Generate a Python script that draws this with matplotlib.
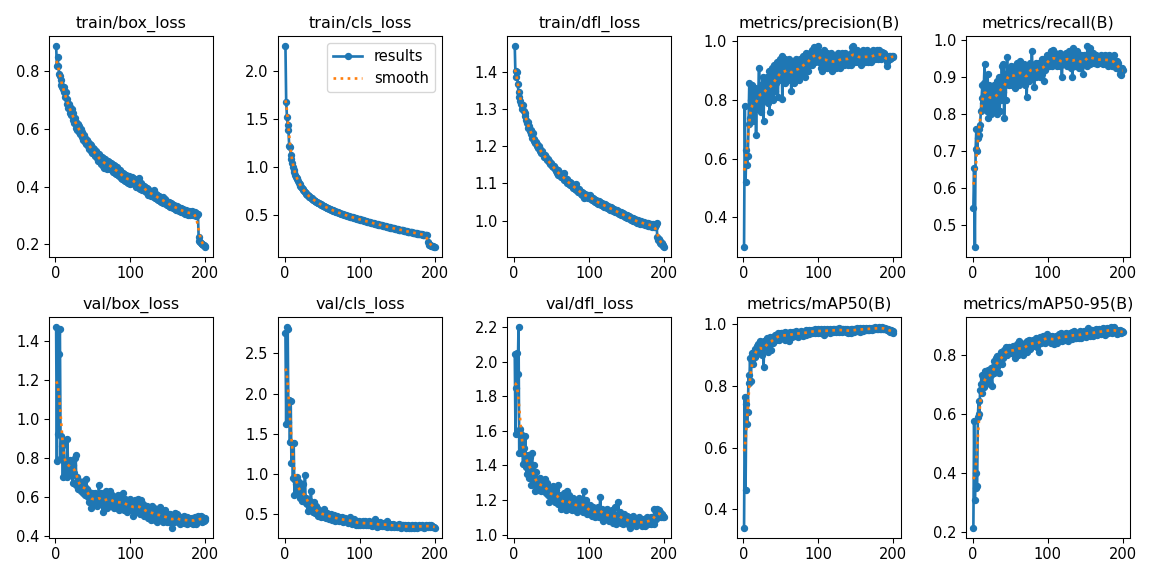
import matplotlib
matplotlib.use("Agg")
import matplotlib.pyplot as plt
import numpy as np

plt.rcParams["font.size"] = 11

# ── data (epochs 1..200) ────────────────────────────────────────────────────

EPOCHS = list(range(1, 201))

TITLES = [
    "train/box_loss", "train/cls_loss", "train/dfl_loss",
    "metrics/precision(B)", "metrics/recall(B)",
    "val/box_loss", "val/cls_loss", "val/dfl_loss",
    "metrics/mAP50(B)", "metrics/mAP50-95(B)",
]

train_box_loss = [
    0.889, 0.818, 0.852, 0.820, 0.793, 0.785, 0.770, 0.752, 0.745, 0.738,
    0.745, 0.728, 0.712, 0.730, 0.688, 0.705, 0.672, 0.686, 0.655, 0.675,
    0.650, 0.668, 0.632, 0.655, 0.622, 0.640, 0.605, 0.625, 0.598, 0.618,
    0.590, 0.610, 0.582, 0.600, 0.572, 0.588, 0.562, 0.578, 0.555, 0.570,
    0.548, 0.562, 0.540, 0.556, 0.532, 0.548, 0.525, 0.545, 0.518, 0.535,
    0.512, 0.530, 0.505, 0.522, 0.498, 0.518, 0.490, 0.512, 0.485, 0.505,
    0.478, 0.502, 0.470, 0.498, 0.465, 0.495, 0.472, 0.490, 0.462, 0.488,
    0.468, 0.485, 0.460, 0.482, 0.456, 0.478, 0.452, 0.475, 0.448, 0.470,
    0.445, 0.468, 0.440, 0.462, 0.436, 0.458, 0.430, 0.452, 0.426, 0.448,
    0.424, 0.445, 0.420, 0.440, 0.416, 0.438, 0.412, 0.436, 0.410, 0.432,
    0.420, 0.435, 0.412, 0.430, 0.408, 0.425, 0.400, 0.420, 0.398, 0.418,
    0.395, 0.430, 0.392, 0.412, 0.388, 0.405, 0.390, 0.402, 0.385, 0.398,
    0.380, 0.395, 0.372, 0.390, 0.370, 0.386, 0.366, 0.382, 0.368, 0.378,
    0.364, 0.388, 0.360, 0.375, 0.356, 0.370, 0.352, 0.366, 0.350, 0.362,
    0.348, 0.360, 0.344, 0.365, 0.342, 0.356, 0.340, 0.350, 0.336, 0.348,
    0.334, 0.345, 0.330, 0.342, 0.328, 0.340, 0.325, 0.336, 0.322, 0.334,
    0.320, 0.332, 0.318, 0.328, 0.315, 0.326, 0.312, 0.324, 0.310, 0.322,
    0.308, 0.320, 0.306, 0.318, 0.304, 0.316, 0.302, 0.314, 0.300, 0.312,
    0.306, 0.314, 0.302, 0.312, 0.300, 0.310, 0.298, 0.308, 0.300, 0.305,
    0.225, 0.212, 0.208, 0.205, 0.202, 0.200, 0.197, 0.196, 0.193, 0.191,
]

train_cls_loss = [
    2.260, 1.680, 1.520, 1.440, 1.380, 1.220, 1.210, 1.120, 1.080, 1.040,
    1.000, 0.970, 0.950, 0.920, 0.900, 0.880, 0.870, 0.850, 0.830, 0.820,
    0.805, 0.790, 0.780, 0.770, 0.755, 0.748, 0.740, 0.728, 0.722, 0.712,
    0.705, 0.698, 0.692, 0.685, 0.678, 0.672, 0.668, 0.660, 0.655, 0.650,
    0.645, 0.640, 0.632, 0.630, 0.622, 0.620, 0.614, 0.610, 0.606, 0.600,
    0.598, 0.592, 0.590, 0.584, 0.582, 0.576, 0.574, 0.570, 0.566, 0.562,
    0.560, 0.555, 0.552, 0.549, 0.545, 0.542, 0.540, 0.535, 0.532, 0.530,
    0.526, 0.524, 0.520, 0.518, 0.515, 0.512, 0.510, 0.507, 0.504, 0.502,
    0.499, 0.497, 0.494, 0.492, 0.489, 0.487, 0.484, 0.482, 0.479, 0.477,
    0.475, 0.472, 0.470, 0.468, 0.465, 0.463, 0.461, 0.459, 0.456, 0.454,
    0.452, 0.450, 0.447, 0.445, 0.443, 0.441, 0.439, 0.436, 0.434, 0.432,
    0.430, 0.428, 0.426, 0.424, 0.421, 0.419, 0.417, 0.415, 0.413, 0.411,
    0.409, 0.407, 0.405, 0.403, 0.401, 0.399, 0.397, 0.395, 0.393, 0.391,
    0.389, 0.387, 0.385, 0.383, 0.381, 0.379, 0.377, 0.375, 0.373, 0.371,
    0.369, 0.367, 0.366, 0.364, 0.362, 0.360, 0.358, 0.356, 0.355, 0.353,
    0.351, 0.349, 0.347, 0.346, 0.344, 0.342, 0.340, 0.339, 0.337, 0.335,
    0.333, 0.332, 0.330, 0.328, 0.327, 0.325, 0.323, 0.322, 0.320, 0.318,
    0.317, 0.315, 0.314, 0.312, 0.310, 0.309, 0.307, 0.306, 0.304, 0.303,
    0.301, 0.300, 0.298, 0.297, 0.295, 0.294, 0.292, 0.291, 0.290, 0.288,
    0.215, 0.198, 0.190, 0.185, 0.182, 0.179, 0.176, 0.174, 0.172, 0.170,
]

train_dfl_loss = [
    1.470, 1.385, 1.403, 1.400, 1.368, 1.345, 1.332, 1.322, 1.315, 1.310,
    1.300, 1.312, 1.295, 1.282, 1.290, 1.272, 1.262, 1.266, 1.250, 1.255,
    1.240, 1.245, 1.232, 1.222, 1.235, 1.215, 1.220, 1.208, 1.212, 1.200,
    1.205, 1.195, 1.200, 1.188, 1.192, 1.182, 1.186, 1.178, 1.180, 1.172,
    1.176, 1.168, 1.170, 1.162, 1.166, 1.158, 1.160, 1.153, 1.156, 1.148,
    1.150, 1.143, 1.146, 1.138, 1.141, 1.134, 1.128, 1.136, 1.124, 1.130,
    1.122, 1.126, 1.118, 1.121, 1.114, 1.128, 1.110, 1.116, 1.106, 1.112,
    1.102, 1.108, 1.098, 1.104, 1.095, 1.100, 1.092, 1.097, 1.088, 1.094,
    1.085, 1.098, 1.082, 1.088, 1.078, 1.084, 1.076, 1.080, 1.072, 1.078,
    1.070, 1.075, 1.062, 1.072, 1.066, 1.070, 1.064, 1.068, 1.060, 1.066,
    1.070, 1.058, 1.064, 1.055, 1.062, 1.052, 1.058, 1.050, 1.056, 1.048,
    1.054, 1.046, 1.052, 1.044, 1.050, 1.042, 1.048, 1.040, 1.046, 1.038,
    1.044, 1.036, 1.042, 1.034, 1.040, 1.032, 1.038, 1.030, 1.036, 1.028,
    1.034, 1.026, 1.032, 1.024, 1.030, 1.022, 1.028, 1.020, 1.026, 1.018,
    1.024, 1.016, 1.022, 1.014, 1.020, 1.012, 1.018, 1.010, 1.016, 1.008,
    1.014, 1.006, 1.012, 1.004, 1.010, 1.002, 1.008, 1.000, 1.006, 0.998,
    1.004, 0.997, 1.003, 0.995, 1.001, 0.994, 1.000, 0.992, 0.998, 0.991,
    0.997, 0.990, 0.996, 0.989, 0.995, 0.988, 0.994, 0.987, 0.993, 0.986,
    0.992, 0.985, 0.991, 0.984, 0.990, 0.983, 0.989, 0.982, 0.988, 0.995,
    0.955, 0.948, 0.952, 0.940, 0.945, 0.936, 0.940, 0.932, 0.935, 0.930,
]

precision = [
    0.300, 0.780, 0.520, 0.630, 0.580, 0.610, 0.720, 0.860, 0.740, 0.800,
    0.760, 0.850, 0.730, 0.820, 0.790, 0.840, 0.680, 0.810, 0.770, 0.830,
    0.910, 0.780, 0.850, 0.760, 0.830, 0.880, 0.730, 0.860, 0.800, 0.870,
    0.840, 0.880, 0.790, 0.900, 0.760, 0.870, 0.820, 0.910, 0.850, 0.800,
    0.920, 0.830, 0.890, 0.860, 0.930, 0.810, 0.900, 0.870, 0.940, 0.880,
    0.950, 0.805, 0.920, 0.890, 0.940, 0.860, 0.930, 0.900, 0.870, 0.920,
    0.940, 0.880, 0.910, 0.830, 0.930, 0.900, 0.860, 0.920, 0.890, 0.940,
    0.910, 0.880, 0.930, 0.870, 0.900, 0.940, 0.890, 0.920, 0.950, 0.900,
    0.930, 0.880, 0.960, 0.910, 0.940, 0.900, 0.950, 0.920, 0.960, 0.930,
    0.970, 0.920, 0.950, 0.980, 0.930, 0.960, 0.940, 0.970, 0.950, 0.985,
    0.930, 0.960, 0.910, 0.950, 0.900, 0.940, 0.970, 0.920, 0.950, 0.930,
    0.960, 0.910, 0.940, 0.920, 0.950, 0.930, 0.960, 0.900, 0.940, 0.920,
    0.950, 0.930, 0.910, 0.940, 0.920, 0.960, 0.930, 0.950, 0.910, 0.940,
    0.960, 0.930, 0.950, 0.920, 0.940, 0.960, 0.930, 0.950, 0.920, 0.940,
    0.950, 0.930, 0.960, 0.920, 0.980, 0.985, 0.940, 0.970, 0.930, 0.960,
    0.940, 0.970, 0.930, 0.950, 0.960, 0.940, 0.920, 0.950, 0.970, 0.940,
    0.960, 0.930, 0.950, 0.940, 0.970, 0.930, 0.960, 0.940, 0.950, 0.930,
    0.960, 0.940, 0.970, 0.950, 0.940, 0.960, 0.950, 0.970, 0.940, 0.960,
    0.970, 0.950, 0.960, 0.940, 0.965, 0.950, 0.960, 0.945, 0.955, 0.940,
    0.915, 0.930, 0.945, 0.950, 0.940, 0.950, 0.945, 0.950, 0.948, 0.950,
]

recall = [
    0.548, 0.655, 0.442, 0.705, 0.760, 0.700, 0.735, 0.745, 0.760, 0.772,
    0.810, 0.845, 0.880, 0.830, 0.885, 0.935, 0.820, 0.870, 0.810, 0.910,
    0.790, 0.880, 0.830, 0.860, 0.800, 0.870, 0.840, 0.880, 0.810, 0.850,
    0.870, 0.800, 0.890, 0.840, 0.900, 0.810, 0.880, 0.840, 0.930, 0.860,
    0.935, 0.790, 0.880, 0.840, 0.910, 0.955, 0.890, 0.920, 0.880, 0.910,
    0.930, 0.900, 0.880, 0.920, 0.890, 0.930, 0.870, 0.910, 0.940, 0.900,
    0.920, 0.880, 0.945, 0.900, 0.930, 0.890, 0.920, 0.900, 0.935, 0.880,
    0.920, 0.848, 0.910, 0.930, 0.890, 0.920, 0.940, 0.900, 0.970, 0.910,
    0.930, 0.875, 0.920, 0.940, 0.900, 0.930, 0.910, 0.940, 0.920, 0.900,
    0.930, 0.950, 0.910, 0.940, 0.890, 0.950, 0.920, 0.940, 0.960, 0.930,
    0.950, 0.930, 0.960, 0.940, 0.970, 0.930, 0.975, 0.950, 0.940, 0.965,
    0.940, 0.960, 0.930, 0.955, 0.945, 0.965, 0.930, 0.960, 0.900, 0.950,
    0.960, 0.935, 0.955, 0.940, 0.965, 0.930, 0.960, 0.945, 0.970, 0.950,
    0.925, 0.955, 0.900, 0.980, 0.940, 0.960, 0.930, 0.950, 0.970, 0.935,
    0.955, 0.925, 0.945, 0.960, 0.930, 0.950, 0.910, 0.945, 0.960, 0.935,
    0.950, 0.930, 0.985, 0.955, 0.940, 0.980, 0.935, 0.960, 0.945, 0.950,
    0.965, 0.940, 0.955, 0.945, 0.960, 0.935, 0.950, 0.940, 0.955, 0.945,
    0.960, 0.940, 0.955, 0.935, 0.950, 0.945, 0.960, 0.940, 0.955, 0.930,
    0.950, 0.960, 0.935, 0.955, 0.945, 0.930, 0.950, 0.940, 0.960, 0.935,
    0.925, 0.945, 0.930, 0.940, 0.925, 0.920, 0.910, 0.905, 0.925, 0.920,
]

val_box_loss = [
    1.470, 0.780, 1.460, 0.920, 1.330, 1.460, 0.800, 0.910, 0.860, 0.700,
    0.880, 0.780, 0.720, 0.750, 0.700, 0.895, 0.730, 0.760, 0.710, 0.790,
    0.740, 0.780, 0.670, 0.760, 0.720, 0.800, 0.815, 0.660, 0.700, 0.640,
    0.680, 0.650, 0.670, 0.630, 0.660, 0.640, 0.620, 0.680, 0.650, 0.610,
    0.690, 0.640, 0.600, 0.630, 0.570, 0.610, 0.590, 0.540, 0.620, 0.580,
    0.600, 0.560, 0.620, 0.580, 0.550, 0.600, 0.570, 0.660, 0.590, 0.560,
    0.620, 0.580, 0.520, 0.600, 0.560, 0.590, 0.630, 0.570, 0.540, 0.620,
    0.600, 0.560, 0.630, 0.580, 0.550, 0.610, 0.570, 0.540, 0.600, 0.560,
    0.590, 0.550, 0.610, 0.570, 0.530, 0.580, 0.560, 0.600, 0.540, 0.620,
    0.570, 0.530, 0.590, 0.550, 0.580, 0.520, 0.560, 0.540, 0.590, 0.550,
    0.570, 0.530, 0.560, 0.500, 0.550, 0.580, 0.520, 0.560, 0.540, 0.590,
    0.530, 0.560, 0.510, 0.580, 0.540, 0.520, 0.560, 0.500, 0.550, 0.530,
    0.510, 0.550, 0.520, 0.490, 0.540, 0.510, 0.530, 0.480, 0.550, 0.520,
    0.500, 0.540, 0.480, 0.520, 0.510, 0.470, 0.530, 0.490, 0.545, 0.500,
    0.480, 0.520, 0.470, 0.510, 0.490, 0.530, 0.480, 0.500, 0.470, 0.510,
    0.490, 0.470, 0.510, 0.480, 0.500, 0.440, 0.490, 0.470, 0.515, 0.500,
    0.480, 0.510, 0.470, 0.500, 0.480, 0.460, 0.495, 0.470, 0.490, 0.475,
    0.500, 0.465, 0.485, 0.470, 0.495, 0.460, 0.480, 0.490, 0.470, 0.485,
    0.465, 0.490, 0.475, 0.460, 0.480, 0.495, 0.470, 0.460, 0.485, 0.500,
    0.475, 0.490, 0.480, 0.500, 0.470, 0.495, 0.485, 0.475, 0.490, 0.480,
]

val_cls_loss = [
    2.750, 1.620, 2.830, 2.810, 1.650, 1.920, 1.400, 1.910, 1.140, 1.390,
    0.950, 1.380, 0.740, 0.920, 0.880, 0.960, 0.820, 0.780, 0.900, 0.700,
    0.850, 0.760, 0.660, 0.870, 0.720, 0.680, 0.990, 0.640, 0.700, 0.620,
    0.540, 0.680, 0.600, 0.580, 0.790, 0.560, 0.620, 0.530, 0.650, 0.570,
    0.520, 0.600, 0.500, 0.560, 0.480, 0.540, 0.500, 0.460, 0.530, 0.490,
    0.510, 0.470, 0.570, 0.490, 0.450, 0.520, 0.470, 0.500, 0.440, 0.480,
    0.460, 0.500, 0.430, 0.470, 0.450, 0.490, 0.420, 0.460, 0.440, 0.480,
    0.430, 0.460, 0.410, 0.450, 0.440, 0.420, 0.470, 0.400, 0.440, 0.420,
    0.450, 0.410, 0.430, 0.390, 0.440, 0.410, 0.460, 0.400, 0.420, 0.380,
    0.410, 0.440, 0.390, 0.420, 0.370, 0.410, 0.400, 0.360, 0.420, 0.390,
    0.370, 0.400, 0.380, 0.420, 0.360, 0.390, 0.410, 0.370, 0.380, 0.400,
    0.360, 0.390, 0.420, 0.370, 0.380, 0.350, 0.400, 0.370, 0.390, 0.440,
    0.360, 0.380, 0.340, 0.390, 0.370, 0.350, 0.400, 0.360, 0.380, 0.350,
    0.370, 0.390, 0.350, 0.380, 0.360, 0.340, 0.420, 0.370, 0.350, 0.380,
    0.360, 0.340, 0.370, 0.350, 0.380, 0.340, 0.360, 0.350, 0.370, 0.340,
    0.360, 0.340, 0.380, 0.350, 0.330, 0.360, 0.340, 0.370, 0.350, 0.340,
    0.360, 0.330, 0.350, 0.340, 0.360, 0.330, 0.350, 0.340, 0.330, 0.360,
    0.340, 0.350, 0.330, 0.360, 0.340, 0.350, 0.330, 0.345, 0.360, 0.340,
    0.350, 0.335, 0.360, 0.340, 0.350, 0.330, 0.355, 0.340, 0.365, 0.350,
    0.340, 0.370, 0.350, 0.345, 0.360, 0.340, 0.355, 0.345, 0.335, 0.330,
]

val_dfl_loss = [
    2.045, 1.580, 1.850, 2.050, 1.930, 2.200, 1.470, 1.610, 1.580, 1.470,
    1.560, 1.410, 1.500, 1.450, 1.570, 1.390, 1.350, 1.460, 1.420, 1.330,
    1.450, 1.380, 1.290, 1.470, 1.350, 1.400, 1.310, 1.250, 1.360, 1.290,
    1.320, 1.260, 1.300, 1.280, 1.330, 1.250, 1.290, 1.270, 1.310, 1.260,
    1.320, 1.240, 1.280, 1.300, 1.230, 1.270, 1.190, 1.250, 1.210, 1.260,
    1.220, 1.280, 1.200, 1.240, 1.190, 1.260, 1.210, 1.290, 1.180, 1.230,
    1.200, 1.150, 1.220, 1.190, 1.170, 1.240, 1.160, 1.200, 1.140, 1.210,
    1.250, 1.170, 1.230, 1.150, 1.200, 1.180, 1.140, 1.210, 1.160, 1.190,
    1.150, 1.200, 1.170, 1.130, 1.190, 1.160, 1.210, 1.140, 1.180, 1.150,
    1.190, 1.130, 1.250, 1.170, 1.140, 1.200, 1.120, 1.160, 1.140, 1.120,
    1.170, 1.130, 1.150, 1.110, 1.160, 1.120, 1.140, 1.100, 1.150, 1.120,
    1.130, 1.160, 1.100, 1.140, 1.220, 1.110, 1.150, 1.080, 1.130, 1.100,
    1.140, 1.090, 1.120, 1.150, 1.100, 1.080, 1.130, 1.110, 1.090, 1.140,
    1.100, 1.070, 1.120, 1.160, 1.090, 1.060, 1.110, 1.080, 1.190, 1.100,
    1.130, 1.070, 1.110, 1.090, 1.060, 1.120, 1.080, 1.100, 1.070, 1.110,
    1.090, 1.060, 1.100, 1.080, 1.040, 1.090, 1.070, 1.110, 1.080, 1.060,
    1.090, 1.070, 1.050, 1.080, 1.060, 1.100, 1.070, 1.060, 1.090, 1.050,
    1.080, 1.060, 1.090, 1.070, 1.050, 1.080, 1.100, 1.060, 1.090, 1.070,
    1.080, 1.100, 1.060, 1.090, 1.070, 1.060, 1.150, 1.110, 1.090, 1.130,
    1.150, 1.120, 1.140, 1.110, 1.130, 1.100, 1.120, 1.110, 1.100, 1.100,
]

map50 = [
    0.340, 0.765, 0.462, 0.740, 0.675, 0.715, 0.835, 0.810, 0.890, 0.815,
    0.880, 0.905, 0.870, 0.910, 0.895, 0.920, 0.900, 0.930, 0.910, 0.935,
    0.915, 0.945, 0.920, 0.940, 0.900, 0.930, 0.860, 0.945, 0.925, 0.950,
    0.930, 0.955, 0.910, 0.950, 0.935, 0.960, 0.915, 0.955, 0.940, 0.960,
    0.945, 0.965, 0.950, 0.960, 0.955, 0.970, 0.950, 0.965, 0.960, 0.970,
    0.955, 0.972, 0.960, 0.968, 0.950, 0.975, 0.962, 0.970, 0.958, 0.972,
    0.945, 0.975, 0.965, 0.970, 0.958, 0.976, 0.968, 0.972, 0.962, 0.978,
    0.966, 0.974, 0.960, 0.976, 0.970, 0.965, 0.978, 0.968, 0.974, 0.962,
    0.976, 0.970, 0.980, 0.966, 0.975, 0.972, 0.980, 0.968, 0.978, 0.974,
    0.982, 0.970, 0.978, 0.975, 0.984, 0.972, 0.980, 0.976, 0.985, 0.970,
    0.980, 0.975, 0.984, 0.972, 0.982, 0.978, 0.985, 0.966, 0.980, 0.976,
    0.984, 0.974, 0.982, 0.978, 0.986, 0.972, 0.982, 0.978, 0.984, 0.975,
    0.983, 0.978, 0.986, 0.974, 0.982, 0.980, 0.987, 0.976, 0.984, 0.979,
    0.986, 0.975, 0.983, 0.980, 0.978, 0.985, 0.976, 0.983, 0.979, 0.970,
    0.982, 0.976, 0.985, 0.972, 0.983, 0.978, 0.986, 0.975, 0.984, 0.980,
    0.987, 0.977, 0.984, 0.981, 0.988, 0.976, 0.985, 0.982, 0.987, 0.979,
    0.986, 0.983, 0.988, 0.980, 0.985, 0.982, 0.989, 0.981, 0.986, 0.984,
    0.988, 0.982, 0.987, 0.985, 0.990, 0.983, 0.988, 0.986, 0.989, 0.984,
    0.990, 0.985, 0.988, 0.986, 0.991, 0.984, 0.989, 0.985, 0.988, 0.983,
    0.986, 0.980, 0.984, 0.978, 0.982, 0.976, 0.980, 0.975, 0.978, 0.972,
]

map50_95 = [
    0.215, 0.575, 0.310, 0.400, 0.350, 0.355, 0.590, 0.645, 0.600, 0.680,
    0.700, 0.730, 0.670, 0.720, 0.690, 0.745, 0.700, 0.735, 0.710, 0.750,
    0.720, 0.745, 0.700, 0.755, 0.730, 0.695, 0.760, 0.740, 0.780, 0.750,
    0.790, 0.760, 0.795, 0.770, 0.740, 0.800, 0.780, 0.810, 0.770, 0.800,
    0.790, 0.815, 0.800, 0.825, 0.810, 0.800, 0.820, 0.810, 0.825, 0.815,
    0.805, 0.820, 0.810, 0.830, 0.815, 0.790, 0.825, 0.810, 0.835, 0.820,
    0.800, 0.845, 0.825, 0.810, 0.835, 0.815, 0.800, 0.830, 0.820, 0.840,
    0.825, 0.810, 0.845, 0.830, 0.850, 0.835, 0.820, 0.845, 0.830, 0.850,
    0.835, 0.845, 0.830, 0.855, 0.840, 0.825, 0.850, 0.810, 0.845, 0.860,
    0.840, 0.855, 0.845, 0.865, 0.850, 0.840, 0.860, 0.850, 0.870, 0.855,
    0.845, 0.865, 0.850, 0.860, 0.840, 0.865, 0.855, 0.835, 0.860, 0.850,
    0.865, 0.850, 0.840, 0.860, 0.870, 0.850, 0.862, 0.875, 0.845, 0.865,
    0.855, 0.870, 0.850, 0.862, 0.875, 0.858, 0.845, 0.868, 0.855, 0.872,
    0.860, 0.878, 0.852, 0.866, 0.880, 0.858, 0.870, 0.855, 0.875, 0.862,
    0.872, 0.858, 0.880, 0.865, 0.855, 0.876, 0.862, 0.882, 0.868, 0.872,
    0.860, 0.880, 0.866, 0.890, 0.870, 0.862, 0.878, 0.868, 0.884, 0.872,
    0.865, 0.880, 0.870, 0.886, 0.874, 0.868, 0.882, 0.872, 0.888, 0.876,
    0.870, 0.884, 0.875, 0.890, 0.878, 0.868, 0.886, 0.876, 0.892, 0.880,
    0.874, 0.888, 0.878, 0.893, 0.882, 0.872, 0.890, 0.880, 0.894, 0.884,
    0.878, 0.870, 0.885, 0.880, 0.872, 0.884, 0.878, 0.874, 0.880, 0.876,
]

SERIES = [
    train_box_loss, train_cls_loss, train_dfl_loss, precision, recall,
    val_box_loss, val_cls_loss, val_dfl_loss, map50, map50_95,
]


def gaussian_smooth(y, sigma=3.0, truncate=4.0):
    """1-D gaussian filter, same as scipy's gaussian_filter1d (reflect mode)."""
    y = np.asarray(y, dtype=float)
    radius = int(truncate * sigma + 0.5)
    k = np.arange(-radius, radius + 1)
    w = np.exp(-0.5 * (k / sigma) ** 2)
    w /= w.sum()
    padded = np.pad(y, radius, mode="symmetric")
    return np.convolve(padded, w, mode="valid")


def main():
    fig, ax = plt.subplots(2, 5, figsize=(1153 / 96, 578 / 96), dpi=96, tight_layout=True)
    ax = ax.ravel()

    x = np.array(EPOCHS)
    for i, (title, y) in enumerate(zip(TITLES, SERIES)):
        ax[i].plot(x, y, marker=".", label="results", linewidth=2, markersize=9)
        ax[i].plot(x, gaussian_smooth(y), ":", label="smooth", linewidth=2)
        ax[i].set_title(title, fontsize=12)

    ax[1].legend()
    fig.savefig("out.png", dpi=96)
    plt.close(fig)


if __name__ == "__main__":
    main()
